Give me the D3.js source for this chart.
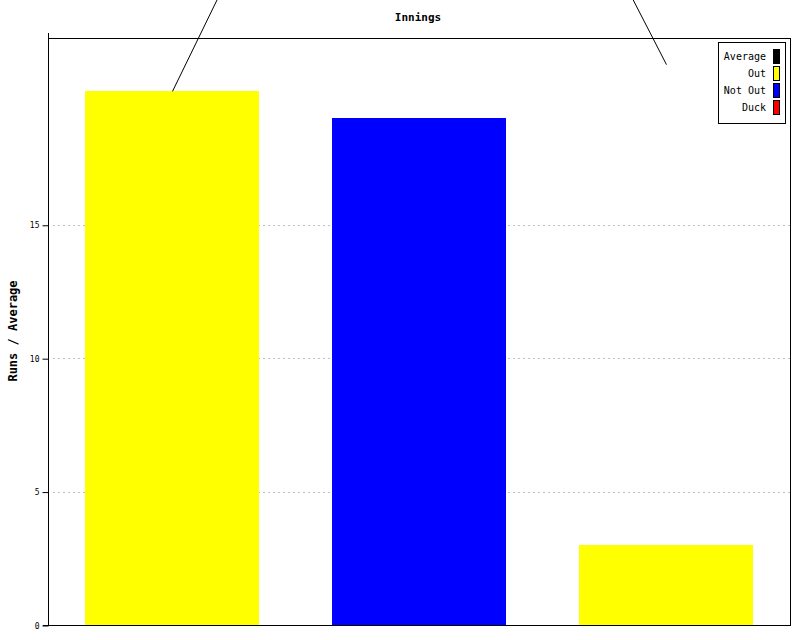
<!DOCTYPE html>
<html><head><meta charset="utf-8">
<script src="https://cdn.jsdelivr.net/npm/d3@7"></script>
<style>
body{margin:0;background:#fff;}
text{font-family:"DejaVu Sans Mono",monospace;}
</style></head>
<body>
<svg id="c" width="800" height="640"></svg>
<script>
const categories = ["1", "2", "3"];
const runs = [20, 19, 3];
const status = ["Out", "Not Out", "Out"];
const averages = [20, 39, 21];
const yTicks = [0, 5, 10, 15];
const legendLabels = ["Average", "Out", "Not Out", "Duck"];
const legendColors = ["#000000", "#ffff00", "#0000ff", "#ff0000"];
const statusColor = {"Average":"#000000","Out":"#ffff00","Not Out":"#0000ff","Duck":"#ff0000"};

const svg = d3.select("#c");
const L = 49, R = 790, T = 38, B = 625;
const x = d3.scaleBand().domain(categories).range([L, R]).paddingInner(0.295).paddingOuter(0.1475);
const y = d3.scaleLinear().domain([0, 22]).range([B, T]);

// grid
svg.append("g").selectAll("line").data(yTicks.filter(d => d > 0)).join("line")
  .attr("x1", L + 4).attr("x2", R).attr("y1", d => Math.round(y(d)) + 0.5).attr("y2", d => Math.round(y(d)) + 0.5)
  .attr("stroke", "#c0c0c0").attr("stroke-dasharray", "2,3");

// bars
svg.append("g").selectAll("rect").data(categories).join("rect")
  .attr("x", d => Math.round(x(d))).attr("width", Math.round(x.bandwidth()))
  .attr("y", (d, i) => Math.round(y(runs[i]))).attr("height", (d, i) => B - Math.round(y(runs[i])))
  .attr("fill", (d, i) => statusColor[status[i]]);

// frame
svg.append("line").attr("x1", L).attr("x2", R + 0.5).attr("y1", T + 0.5).attr("y2", T + 0.5).attr("stroke", "#000");
svg.append("line").attr("x1", R + 0.5).attr("x2", R + 0.5).attr("y1", T).attr("y2", B).attr("stroke", "#000");
svg.append("line").attr("x1", L - 6).attr("x2", R + 1).attr("y1", B + 0.5).attr("y2", B + 0.5).attr("stroke", "#000");
svg.append("line").attr("x1", L - 0.5).attr("x2", L - 0.5).attr("y1", T - 5).attr("y2", B + 1).attr("stroke", "#000");

// y axis ticks
const yAxis = d3.axisLeft(y).tickValues(yTicks).tickSize(6).tickPadding(3);
const ga = svg.append("g").attr("transform", `translate(${L - 0.5},0.5)`).call(yAxis);
ga.select(".domain").remove();
ga.selectAll("line").attr("stroke", "#000");
ga.selectAll("text").attr("font-size", 8).attr("font-family", "DejaVu Sans Mono").attr("fill", "#000");

// average line
const line = d3.line().x((d, i) => x(categories[i]) + x.bandwidth() / 2).y(d => y(d));
svg.append("path").datum(averages).attr("d", line).attr("fill", "none").attr("stroke", "#000").attr("stroke-width", 1);

// title
svg.append("text").attr("x", 418).attr("y", 21).attr("text-anchor", "middle")
  .attr("font-size", 11).attr("font-weight", "bold").text("Innings");
// y label
svg.append("text").attr("transform", "translate(17,331) rotate(-90)").attr("text-anchor", "middle")
  .attr("font-size", 12).attr("font-weight", "bold").text("Runs / Average");

// legend
const lg = svg.append("g");
lg.append("rect").attr("x", 718.5).attr("y", 42.5).attr("width", 67).attr("height", 81)
  .attr("fill", "#fff").attr("stroke", "#000");
legendLabels.forEach((lab, i) => {
  const cy = 56 + i * 17;
  lg.append("text").attr("x", 766).attr("y", cy + 4).attr("text-anchor", "end").attr("font-size", 10).text(lab);
  lg.append("rect").attr("x", 773.5).attr("y", cy - 6.5).attr("width", 6).attr("height", 14)
    .attr("fill", legendColors[i]).attr("stroke", "#000");
});
</script>
</body></html>
